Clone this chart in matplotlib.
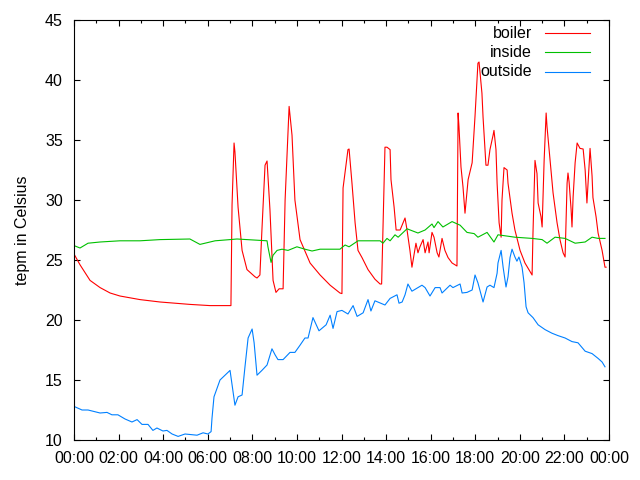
import matplotlib
matplotlib.use("Agg")
import matplotlib.pyplot as plt
from matplotlib.ticker import MultipleLocator

plt.rcParams["font.family"] = ["Liberation Sans", "DejaVu Sans"]

# hours since midnight, temperature in Celsius
boiler_t = [0.00, 0.27, 0.72, 1.17, 1.62, 2.06, 2.96, 3.86, 5.20, 6.10, 7.04,
            7.09, 7.18, 7.22, 7.36, 7.54, 7.76, 8.12, 8.21, 8.34, 8.43, 8.57,
            8.66, 8.79, 8.93, 9.06, 9.20, 9.38, 9.47, 9.65, 9.78, 9.91, 10.14,
            10.59, 11.04, 11.49, 11.93, 12.02, 12.07, 12.29, 12.34, 12.47,
            12.61, 12.74, 12.92, 13.19, 13.50, 13.73, 13.80, 13.95, 14.04,
            14.18, 14.22, 14.36, 14.45, 14.63, 14.85, 14.94, 15.07, 15.16,
            15.34, 15.43, 15.52, 15.66, 15.75, 15.88, 15.93, 16.06, 16.15,
            16.29, 16.37, 16.51, 16.64, 16.78, 16.96, 17.18, 17.23, 17.27,
            17.36, 17.45, 17.54, 17.68, 17.86, 17.99, 18.12, 18.17, 18.30,
            18.35, 18.48, 18.57, 18.66, 18.80, 18.84, 18.93, 18.98, 19.07,
            19.16, 19.20, 19.29, 19.43, 19.47, 19.65, 19.78, 20.01, 20.23,
            20.55, 20.59, 20.68, 20.73, 20.77, 20.82, 20.95, 21.00, 21.09,
            21.18, 21.22, 21.36, 21.49, 21.67, 21.80, 21.94, 22.03, 22.12,
            22.16, 22.21, 22.30, 22.34, 22.39, 22.48, 22.57, 22.70, 22.84,
            22.93, 23.01, 23.06, 23.15, 23.24, 23.28, 23.42, 23.51, 23.69,
            23.82, 23.87]
boiler_v = [25.5, 24.6, 23.3, 22.7, 22.25, 22.0, 21.7, 21.5, 21.3, 21.2, 21.2,
            29.6, 34.75, 34.0, 29.4, 25.8, 24.2, 23.6, 23.5, 23.75, 27.5, 32.9,
            33.25, 29.2, 23.3, 22.3, 22.6, 22.6, 30.0, 37.8, 35.4, 30.0, 26.7,
            24.75, 23.75, 22.9, 22.25, 22.2, 31.0, 34.2, 34.25, 31.4,
            28.1, 25.8, 25.2, 24.2, 23.4, 23.0, 23.0, 34.4, 34.4,
            34.2, 31.7, 29.4, 27.5, 27.5, 28.5, 27.5, 25.8, 24.4,
            26.4, 25.6, 26.1, 26.7, 25.6, 26.5, 25.6, 27.3, 26.9,
            25.6, 25.25, 26.8, 25.8, 25.2, 24.75, 24.5, 37.25, 36.1,
            32.75, 31.1, 28.9, 31.7, 33.1, 37.0, 41.4, 41.5, 38.9,
            36.9, 32.9, 32.9, 34.2, 35.4, 35.8, 34.2, 31.4, 28.1,
            26.9, 30.0, 32.7, 32.5, 31.4, 28.9, 27.5, 25.8, 24.75,
            23.75, 27.25, 33.3, 32.7, 32.2, 29.75, 28.6, 27.75, 33.3,
            37.25, 36.1, 33.3, 30.6, 28.1, 26.7, 25.6, 25.25, 31.4,
            32.25, 31.5, 29.2, 27.75, 30.25, 33.1, 34.75, 34.3, 34.25,
            32.5, 29.75, 31.4, 34.3, 32.0, 30.2, 28.6, 27.25, 25.8,
            24.4, 24.4]

inside_t = [0.00, 0.27, 0.63, 1.17, 2.06, 2.96, 3.86, 5.20, 5.65, 6.33, 7.00,
            7.31, 8.66, 8.70, 8.84, 8.93, 9.11, 9.33, 9.60, 10.00, 10.36,
            10.68, 11.04, 11.57, 11.93, 12.16, 12.34, 12.74, 13.19, 13.73,
            13.86, 14.04, 14.18, 14.40, 14.54, 14.94, 15.43, 15.75, 16.06,
            16.15, 16.33, 16.55, 16.96, 17.32, 17.63, 17.95, 18.12, 18.53,
            18.84, 19.02, 19.78, 20.55, 21.00, 21.22, 21.58, 22.03, 22.48,
            22.93, 23.24, 23.51, 23.82]
inside_v = [26.2, 26.0, 26.4, 26.5, 26.6, 26.6, 26.7, 26.75, 26.3, 26.6, 26.7,
            26.75, 26.6, 26.1, 24.8, 25.4, 25.8, 25.9, 25.8, 26.1, 25.9,
            25.75, 25.9, 25.9, 25.9, 26.25, 26.1, 26.6, 26.6, 26.6,
            26.4, 26.8, 26.6, 27.1, 26.9, 27.6, 27.25, 27.5, 28.0,
            27.7, 28.2, 27.75, 28.2, 27.9, 27.3, 27.2, 26.9, 27.3,
            26.5, 27.1, 26.9, 26.8, 26.7, 26.4, 26.9, 26.8, 26.4,
            26.5, 26.9, 26.8, 26.8]

outside_t = [0.00, 0.36, 0.63, 1.17, 1.48, 1.70, 1.97, 2.29, 2.60, 2.83, 3.05,
             3.32, 3.54, 3.72, 3.99, 4.17, 4.40, 4.67, 4.98, 5.52, 5.79, 6.01,
             6.15, 6.19, 6.28, 6.55, 7.00, 7.22, 7.36, 7.54, 7.67, 7.81, 7.99,
             8.08, 8.21, 8.43, 8.66, 8.88, 9.02, 9.15, 9.38, 9.69, 9.91, 10.14,
             10.36, 10.50, 10.72, 10.99, 11.31, 11.49, 11.62, 11.80, 12.02,
             12.29, 12.52, 12.70, 12.97, 13.19, 13.32, 13.50, 13.95, 14.18,
             14.49, 14.58, 14.72, 14.85, 14.98, 15.16, 15.61, 15.75, 15.97,
             16.20, 16.42, 16.51, 16.87, 17.00, 17.32, 17.41, 17.63, 17.86,
             17.99, 18.12, 18.35, 18.53, 18.66, 18.84, 18.98, 19.02, 19.16,
             19.25, 19.38, 19.47, 19.56, 19.65, 19.78, 19.87, 19.96, 20.10,
             20.19, 20.28, 20.37, 20.59, 20.82, 21.13, 21.44, 21.71, 22.03,
             22.34, 22.61, 22.93, 23.24, 23.51, 23.69, 23.82]
outside_v = [12.8, 12.5, 12.5, 12.25, 12.3, 12.1, 12.1, 11.75, 11.5, 11.7, 11.3,
             11.3, 10.8, 11.0, 10.75, 10.8, 10.5, 10.3, 10.5, 10.4, 10.6, 10.5,
             10.7, 11.8, 13.6, 15.0, 15.8, 12.9, 13.6, 13.75, 16.1, 18.5, 19.25,
             18.1, 15.4, 15.8, 16.25, 17.6, 17.1, 16.7, 16.7, 17.3, 17.3, 17.9,
             18.5, 18.5, 20.2, 19.1, 19.6, 20.4, 19.3, 20.7, 20.8,
             20.5, 21.2, 20.3, 20.6, 21.7, 20.75, 21.6, 21.25, 21.8,
             22.1, 21.4, 21.5, 22.1, 23.0, 22.4, 22.9, 22.7, 22.0,
             22.7, 22.7, 22.25, 22.9, 22.7, 23.0, 22.25, 22.3, 22.5,
             23.75, 23.1, 21.5, 22.75, 22.9, 22.7, 23.9, 24.75, 25.8,
             24.4, 22.75, 23.6, 25.2, 25.9, 25.25, 24.9, 25.25, 24.4,
             23.1, 21.1, 20.6, 20.2, 19.6, 19.2, 18.9, 18.7, 18.5,
             18.2, 18.1, 17.4, 17.2, 16.8, 16.5, 16.1]

hour_labels = ["00:00", "02:00", "04:00", "06:00", "08:00", "10:00", "12:00",
               "14:00", "16:00", "18:00", "20:00", "22:00", "00:00"]

fig = plt.figure(figsize=(6.4, 4.8), dpi=100)
ax = fig.add_axes([74 / 640, 40 / 480, 535 / 640, 420 / 480])

ax.plot(boiler_t, boiler_v, color="#ff0000", linewidth=0.8)
ax.plot(inside_t, inside_v, color="#00c000", linewidth=0.8)
ax.plot(outside_t, outside_v, color="#0080ff", linewidth=0.8)

ax.set_xlim(0, 24)
ax.set_ylim(10, 45)
ax.set_xticks(range(0, 25, 2))
ax.set_xticklabels(hour_labels)
ax.xaxis.set_minor_locator(MultipleLocator(1))
ax.set_yticks(range(10, 46, 5))

fs = 11.5
ax.tick_params(which="both", direction="in", top=True, right=True,
               labelsize=fs, colors="black")
ax.tick_params(which="major", length=4, width=0.8)
ax.tick_params(which="minor", length=2, width=0.8)
ax.tick_params(axis="x", pad=8)
ax.tick_params(axis="y", pad=8)
for s in ax.spines.values():
    s.set_linewidth(0.8)

ax.set_ylabel("tepm in Celsius", fontsize=fs, labelpad=11)

# gnuplot style key, text right-aligned left of the sample line
key = [("boiler", "#ff0000"), ("inside", "#00c000"), ("outside", "#0080ff")]
for i, (name, col) in enumerate(key):
    yk = 0.969 - i * 0.046
    ax.text(0.856, yk, name, transform=ax.transAxes, ha="right", va="center",
            fontsize=fs)
    ax.plot([0.880, 0.964], [yk, yk], transform=ax.transAxes, color=col,
            linewidth=0.8)

fig.savefig("out.png", dpi=100)
